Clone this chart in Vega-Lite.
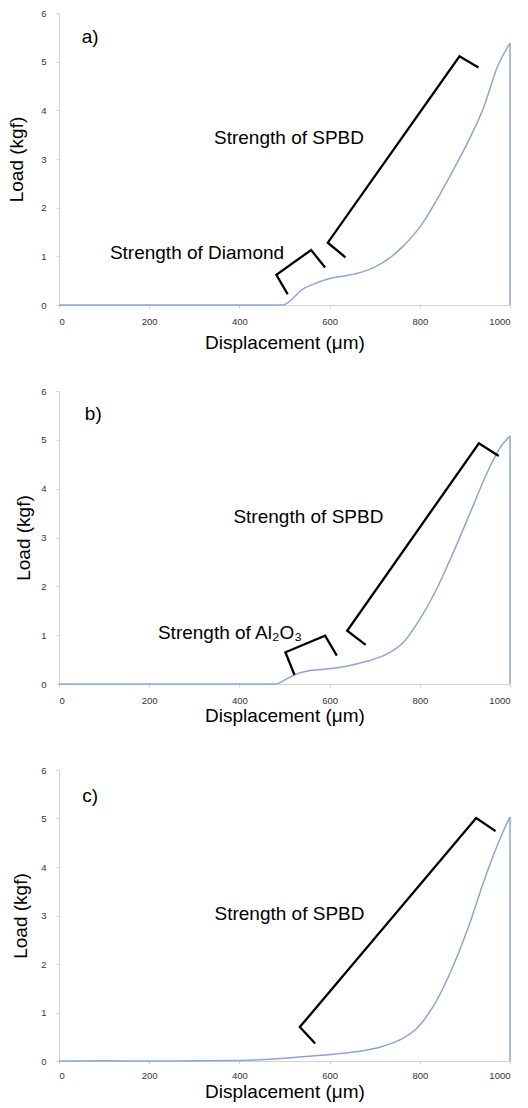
{
  "$schema": "https://vega.github.io/schema/vega-lite/v6.json",
  "background": "white",
  "padding": {"left": 7, "top": 8, "right": 2, "bottom": 2},
  "spacing": 86,
  "bounds": "flush",
  "config": {
    "view": {"stroke": null},
    "axis": {"domainColor": "#d2d2d2", "tickColor": "#d2d2d2", "grid": false, "labelFont": "Liberation Sans", "labelFontSize": 9.5, "labelColor": "#333333", "titleFont": "Liberation Sans", "titleFontSize": 19, "titleFontWeight": "normal", "titleColor": "#000000", "tickSize": 3},
    "text": {"font": "Liberation Sans", "fontSize": 19, "color": "#000000"}
  },
  "datasets": {
    "a_curve": [
      {"x": 0, "y": 0}, {"x": 100, "y": 0}, {"x": 200, "y": 0}, {"x": 300, "y": 0}, {"x": 400, "y": 0}, {"x": 497, "y": 0}, {"x": 520, "y": 0.15}, {"x": 538, "y": 0.31}, {"x": 568, "y": 0.44}, {"x": 602, "y": 0.55}, {"x": 635, "y": 0.6}, {"x": 673, "y": 0.68}, {"x": 702, "y": 0.79}, {"x": 732, "y": 0.96}, {"x": 762, "y": 1.2}, {"x": 800, "y": 1.6}, {"x": 837, "y": 2.15}, {"x": 874, "y": 2.77}, {"x": 912, "y": 3.45}, {"x": 942, "y": 4.07}, {"x": 972, "y": 4.89}, {"x": 1000, "y": 5.38}
    ],
    "a_drop": [{"x": 1000, "y": 0, "y2": 5.38}],
    "a_br": [
      {"b": "s", "i": 1, "x": 635, "y": 0.98}, {"b": "s", "i": 2, "x": 596, "y": 1.28}, {"b": "s", "i": 3, "x": 888, "y": 5.11}, {"b": "s", "i": 4, "x": 930, "y": 4.88},
      {"b": "d", "i": 1, "x": 507, "y": 0.22}, {"b": "d", "i": 2, "x": 482, "y": 0.62}, {"b": "d", "i": 3, "x": 559, "y": 1.13}, {"b": "d", "i": 4, "x": 590, "y": 0.77}
    ],
    "a_txt": [
      {"t": "Strength of SPBD", "x": 510, "y": 3.44}, {"t": "Strength of Diamond", "x": 306, "y": 1.07}, {"t": "a)", "x": 69, "y": 5.5}
    ],
    "b_curve": [
      {"x": 0, "y": 0}, {"x": 100, "y": 0}, {"x": 200, "y": 0}, {"x": 300, "y": 0}, {"x": 400, "y": 0}, {"x": 482, "y": 0}, {"x": 500, "y": 0.08}, {"x": 523, "y": 0.19}, {"x": 560, "y": 0.28}, {"x": 598, "y": 0.31}, {"x": 635, "y": 0.36}, {"x": 680, "y": 0.46}, {"x": 724, "y": 0.6}, {"x": 762, "y": 0.84}, {"x": 799, "y": 1.31}, {"x": 836, "y": 1.92}, {"x": 873, "y": 2.67}, {"x": 911, "y": 3.49}, {"x": 948, "y": 4.3}, {"x": 978, "y": 4.84}, {"x": 1000, "y": 5.08}
    ],
    "b_drop": [{"x": 1000, "y": 0, "y2": 5.08}],
    "b_br": [
      {"b": "s", "i": 1, "x": 680, "y": 0.8}, {"b": "s", "i": 2, "x": 639, "y": 1.09}, {"b": "s", "i": 3, "x": 931, "y": 4.93}, {"b": "s", "i": 4, "x": 975, "y": 4.67},
      {"b": "a", "i": 1, "x": 522, "y": 0.19}, {"b": "a", "i": 2, "x": 502, "y": 0.65}, {"b": "a", "i": 3, "x": 590, "y": 0.99}, {"b": "a", "i": 4, "x": 616, "y": 0.58}
    ],
    "b_txt": [
      {"t": "Strength of SPBD", "x": 553, "y": 3.42}, {"t": "Strength of Al₂O₃", "x": 379, "y": 1.05}, {"t": "b)", "x": 76, "y": 5.52}
    ],
    "c_curve": [
      {"x": 0, "y": 0}, {"x": 100, "y": 0.005}, {"x": 200, "y": 0}, {"x": 300, "y": 0.005}, {"x": 400, "y": 0.01}, {"x": 458, "y": 0.03}, {"x": 532, "y": 0.08}, {"x": 607, "y": 0.14}, {"x": 667, "y": 0.2}, {"x": 720, "y": 0.31}, {"x": 757, "y": 0.44}, {"x": 794, "y": 0.68}, {"x": 832, "y": 1.16}, {"x": 869, "y": 1.85}, {"x": 907, "y": 2.74}, {"x": 944, "y": 3.76}, {"x": 981, "y": 4.65}, {"x": 1000, "y": 5.03}
    ],
    "c_drop": [{"x": 1000, "y": 0, "y2": 5.03}],
    "c_br": [
      {"b": "s", "i": 1, "x": 568, "y": 0.36}, {"b": "s", "i": 2, "x": 534, "y": 0.7}, {"b": "s", "i": 3, "x": 925, "y": 5.01}, {"b": "s", "i": 4, "x": 968, "y": 4.74}
    ],
    "c_txt": [
      {"t": "Strength of SPBD", "x": 511, "y": 3.04}, {"t": "c)", "x": 69, "y": 5.47}
    ]
  },
  "vconcat": [
    {
      "width": 451, "height": 292,
      "encoding": {
        "x": {"field": "x", "type": "quantitative", "scale": {"domain": [0, 1000], "nice": false}, "axis": {"values": [0, 200, 400, 600, 800, 1000], "format": "d", "labelPadding": 8, "title": "Displacement (μm)", "titlePadding": 8}},
        "y": {"field": "y", "type": "quantitative", "scale": {"domain": [0, 6], "nice": false}, "axis": {"values": [0, 1, 2, 3, 4, 5, 6], "labelPadding": 10, "title": "Load (kgf)", "titlePadding": 14}}
      },
      "layer": [
        {"data": {"name": "a_curve"}, "mark": {"type": "line", "color": "#8ba6d3", "strokeWidth": 1.5, "interpolate": "monotone"}},
        {"data": {"name": "a_drop"}, "mark": {"type": "rule", "color": "#8ba6d3", "strokeWidth": 1.5}, "encoding": {"y2": {"field": "y2"}}},
        {"data": {"name": "a_br"}, "mark": {"type": "line", "color": "#000000", "strokeWidth": 2.3}, "encoding": {"detail": {"field": "b"}, "order": {"field": "i", "type": "quantitative"}}},
        {"data": {"name": "a_txt"}, "mark": {"type": "text", "align": "center", "baseline": "middle"}, "encoding": {"text": {"field": "t"}}}
      ]
    },
    {
      "width": 451, "height": 293,
      "encoding": {
        "x": {"field": "x", "type": "quantitative", "scale": {"domain": [0, 1000], "nice": false}, "axis": {"values": [0, 200, 400, 600, 800, 1000], "format": "d", "labelPadding": 8, "title": "Displacement (μm)", "titlePadding": 2}},
        "y": {"field": "y", "type": "quantitative", "scale": {"domain": [0, 6], "nice": false}, "axis": {"values": [0, 1, 2, 3, 4, 5, 6], "labelPadding": 10, "title": "Load (kgf)", "titlePadding": 7}}
      },
      "layer": [
        {"data": {"name": "b_curve"}, "mark": {"type": "line", "color": "#8ba6d3", "strokeWidth": 1.5, "interpolate": "monotone"}},
        {"data": {"name": "b_drop"}, "mark": {"type": "rule", "color": "#8ba6d3", "strokeWidth": 1.5}, "encoding": {"y2": {"field": "y2"}}},
        {"data": {"name": "b_br"}, "mark": {"type": "line", "color": "#000000", "strokeWidth": 2.3}, "encoding": {"detail": {"field": "b"}, "order": {"field": "i", "type": "quantitative"}}},
        {"data": {"name": "b_txt"}, "mark": {"type": "text", "align": "center", "baseline": "middle"}, "encoding": {"text": {"field": "t"}}}
      ]
    },
    {
      "width": 451, "height": 291,
      "encoding": {
        "x": {"field": "x", "type": "quantitative", "scale": {"domain": [0, 1000], "nice": false}, "axis": {"values": [0, 200, 400, 600, 800, 1000], "format": "d", "labelPadding": 6, "title": "Displacement (μm)", "titlePadding": 3}},
        "y": {"field": "y", "type": "quantitative", "scale": {"domain": [0, 6], "nice": false}, "axis": {"values": [0, 1, 2, 3, 4, 5, 6], "labelPadding": 10, "title": "Load (kgf)", "titlePadding": 10}}
      },
      "layer": [
        {"data": {"name": "c_curve"}, "mark": {"type": "line", "color": "#8ba6d3", "strokeWidth": 1.5, "interpolate": "monotone"}},
        {"data": {"name": "c_drop"}, "mark": {"type": "rule", "color": "#8ba6d3", "strokeWidth": 1.5}, "encoding": {"y2": {"field": "y2"}}},
        {"data": {"name": "c_br"}, "mark": {"type": "line", "color": "#000000", "strokeWidth": 2.3}, "encoding": {"detail": {"field": "b"}, "order": {"field": "i", "type": "quantitative"}}},
        {"data": {"name": "c_txt"}, "mark": {"type": "text", "align": "center", "baseline": "middle"}, "encoding": {"text": {"field": "t"}}}
      ]
    }
  ]
}
